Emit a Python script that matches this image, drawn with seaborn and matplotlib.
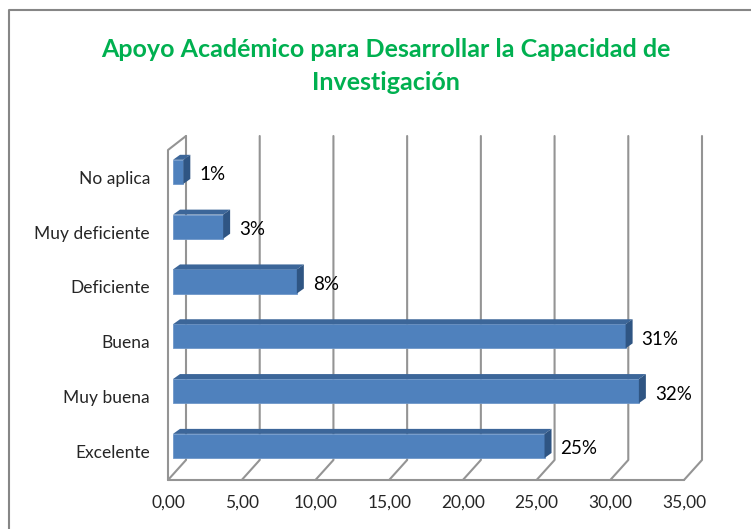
import seaborn as sns
import matplotlib.pyplot as plt
from matplotlib.lines import Line2D
from matplotlib.patches import Polygon
from matplotlib.transforms import IdentityTransform

# data
categories = ["No aplica", "Muy deficiente", "Deficiente", "Buena", "Muy buena", "Excelente"]
values = [0.7, 3.4, 8.4, 30.7, 31.6, 25.2]
pct_labels = ["1%", "3%", "8%", "31%", "32%", "25%"]
xticks = [0, 5, 10, 15, 20, 25, 30, 35]
xtick_labels = ["0,00", "5,00", "10,00", "15,00", "20,00", "25,00", "30,00", "35,00"]
title = "Apoyo Académico para Desarrollar la Capacidad de\nInvestigación"

sns.set_style("white")
plt.rcParams['font.family'] = ['Lato', 'DejaVu Sans']

W, H = 751, 529
fig = plt.figure(figsize=(W / 100, H / 100), dpi=100)
ax = fig.add_axes([173 / W, 1 - 475 / H, 516 / W, 330 / H])

sns.barplot(x=values, y=categories, orient='h', color='#4f81bd', saturation=1,
            width=0.44, ax=ax, zorder=3, edgecolor='#6e97c9', linewidth=0.6)
ax.set_xlim(0, 35)
ax.set_ylim(5.53, -0.49)
ax.axis('off')

ident = IdentityTransform()
grid_c = '#949494'
back, front = 13, -5  # depth offsets in px


def dx(v):
    return ax.transData.transform((v, 0))[0]


def line(pts, **kw):
    xs, ys = zip(*pts)
    fig.add_artist(Line2D(xs, [H - y for y in ys], transform=ident, color=grid_c,
                          lw=1.5, zorder=0, **kw))


# back wall gridlines + floor diagonals
for v in xticks:
    line([(dx(v) + back, 136), (dx(v) + back, 460), (dx(v) + front, 480)])
# floor front edge and left wall
line([(dx(0) + front, 480), (dx(35) + front, 480)])
line([(dx(0) + front, 480), (dx(0) + front, 150), (dx(0) + back, 136)])

# 3D faces of bars
for p, lab in zip(ax.patches, pct_labels):
    (x0, ya), (x1, yb) = ax.transData.transform([(p.get_x(), p.get_y()),
                                                  (p.get_x() + p.get_width(), p.get_y() + p.get_height())])
    yt, ybot = max(ya, yb), min(ya, yb)
    top = Polygon([(x0, yt), (x1, yt), (x1 + 7, yt + 5), (x0 + 7, yt + 5)],
                  closed=True, transform=ident, facecolor='#3c6699', edgecolor='none', zorder=3)
    side = Polygon([(x1, ybot), (x1, yt), (x1 + 7, yt + 5), (x1 + 7, ybot + 5)],
                   closed=True, transform=ident, facecolor='#2f5583', edgecolor='none', zorder=3)
    fig.add_artist(top)
    fig.add_artist(side)
    fig.text(x1 + 16, (yt + ybot) / 2 - 3, lab, transform=ident, ha='left', va='center',
             fontsize=13.5, color='black')

# category labels
for i, c in enumerate(categories):
    yc = ax.transData.transform((0, i))[1]
    fig.text(150, yc - 7, c, transform=ident, ha='right', va='center', fontsize=12.5)

# x tick labels on the front floor
for v, t in zip(xticks, xtick_labels):
    fig.text(dx(v) + front, H - 503, t, transform=ident, ha='center', va='center', fontsize=12.5)

fig.text(386 / W, 1 - 66 / H, title, ha='center', va='center', color='#00b050',
         fontsize=18, fontweight='bold', linespacing=1.5)

# chart frame
fig.add_artist(Line2D([9, 9, W], [0, H - 10, H - 10], transform=ident, color='#868686', lw=1.5))

fig.savefig('out.png', dpi=100, facecolor='white')
